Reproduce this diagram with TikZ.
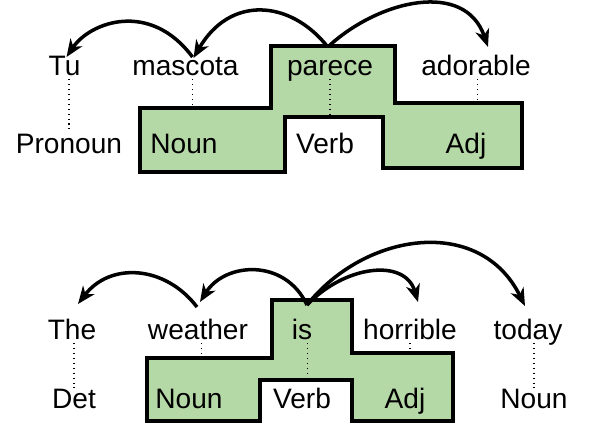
\documentclass[tikz,border=0pt]{standalone}
\usepackage{fontspec}
\setmainfont{Liberation Sans}
\usetikzlibrary{arrows.meta,calc}
\definecolor{tagfill}{RGB}{181,216,167}

\begin{document}
\begin{tikzpicture}[x=0.02cm, y=-0.02cm, >={Stealth[length=10pt,width=8pt,inset=3pt]},
    word/.style={anchor=base, inner sep=0pt, text height=0.72em, text depth=0.22em, font=\fontsize{16}{19}\selectfont},
    tag/.style={word, inner ysep=4pt},
    dep/.style={->, line width=2pt},
    link/.style={line width=0.6pt, dash pattern=on 0.6pt off 2.2pt},
    tagregion/.style={fill=tagfill, line width=2pt}]
    \useasboundingbox (0,0) rectangle (606,444);

    % Tagged regions (top)
    \draw[tagregion] (140,108) coordinate (nounAtop) -- (271,108) -- (271,46) -- (395,46)
        -- (395,103) coordinate (adjAtop) -- (522,103) -- (522,168) -- (383,168)
        -- (383,117) coordinate (verbAtop) -- (285,117) -- (285,172) -- (140,172) -- cycle;

    % Tagged regions (bottom)
    \draw[tagregion] (147,358) coordinate (nounBtop) -- (272,358) -- (272,300) -- (352,300)
        -- (352,353) coordinate (adjBtop) -- (453,353) -- (453,421) -- (352,421)
        -- (352,380) coordinate (verbBtop) -- (260,380) -- (260,421) -- (147,421) -- cycle;

    % Words (top)
    \node[word] (tu) at (64.5,75) {Tu};
    \node[word] (mascota) at (185.5,75) {mascota};
    \node[word] (parece) at (330,75) {parece};
    \node[word] (adorable) at (476,75) {adorable};

    % Tags (top)
    \node[tag] (pronoun) at (69,153) {Pronoun};
    \node[tag] (nounA) at (184,153) {Noun};
    \node[tag] (verbA) at (325,153) {Verb};
    \node[tag] (adjA) at (466,153) {Adj};

    % Words (bottom)
    \node[word] (the) at (72,339) {The};
    \node[word] (weather) at (198,339) {weather};
    \node[word] (is) at (302,339) {is};
    \node[word] (horrible) at (410,339) {horrible};
    \node[word] (today) at (528,339) {today};

    % Tags (bottom)
    \node[tag] (det) at (74,408) {Det};
    \node[tag] (nounB) at (189,408) {Noun};
    \node[tag] (verbB) at (302,408) {Verb};
    \node[tag] (adjB) at (405,408) {Adj};
    \node[tag] (nounC) at (534,408) {Noun};

    % Word-to-tag links
    \draw[link] (pronoun.north |- tu.south) -- (pronoun.north);
    \draw[link] ([xshift=4pt]mascota.south) -- ([xshift=4pt]mascota.south |- nounAtop);
    \draw[link] (parece.south) -- (parece.south |- verbAtop);
    \draw[link] ([xshift=1pt]adorable.south) -- ([xshift=1pt]adorable.south |- adjAtop);
    \draw[link] (det.north |- the.south) -- (det.north);
    \draw[link] ([xshift=2pt]weather.south) -- ([xshift=2pt]weather.south |- nounBtop);
    \draw[link] ([xshift=3pt]is.south) -- ([xshift=3pt]is.south |- verbBtop);
    \draw[link] (horrible.south) -- (horrible.south |- adjBtop);
    \draw[link] (nounC.north |- today.south) -- (nounC.north);

    % Dependencies (top)
    \draw[dep] ($(mascota.north)+(7,-5)$) .. controls (150,0) and (90,22) .. ($(tu.north)+(2,-5)$);
    \draw[dep] ($(parece.north)+(-3,-16)$) .. controls (290,0) and (230,-5) .. ($(mascota.north)+(8,-4)$);
    \draw[dep] ($(parece.north)+(0,-17)$) .. controls (380,0) and (465,-20) .. ($(adorable.north)+(12,-15)$);

    % Dependencies (bottom)
    \coordinate (isroot) at ($(is.north)+(5,-21)$);
    \draw[dep] ($(weather.north)+(-1,-19)$) .. controls (165,265) and (110,262) .. ($(the.north)+(6,-22)$);
    \draw[dep] (isroot) .. controls (285,258) and (225,262) .. ($(weather.north)+(2,-24)$);
    \draw[dep] (isroot) .. controls (345,265) and (405,258) .. ($(horrible.north)+(8,-24)$);
    \draw[dep] (isroot) .. controls (365,232) and (480,215) .. ($(today.north)+(-3,-20)$);
\end{tikzpicture}
\end{document}
